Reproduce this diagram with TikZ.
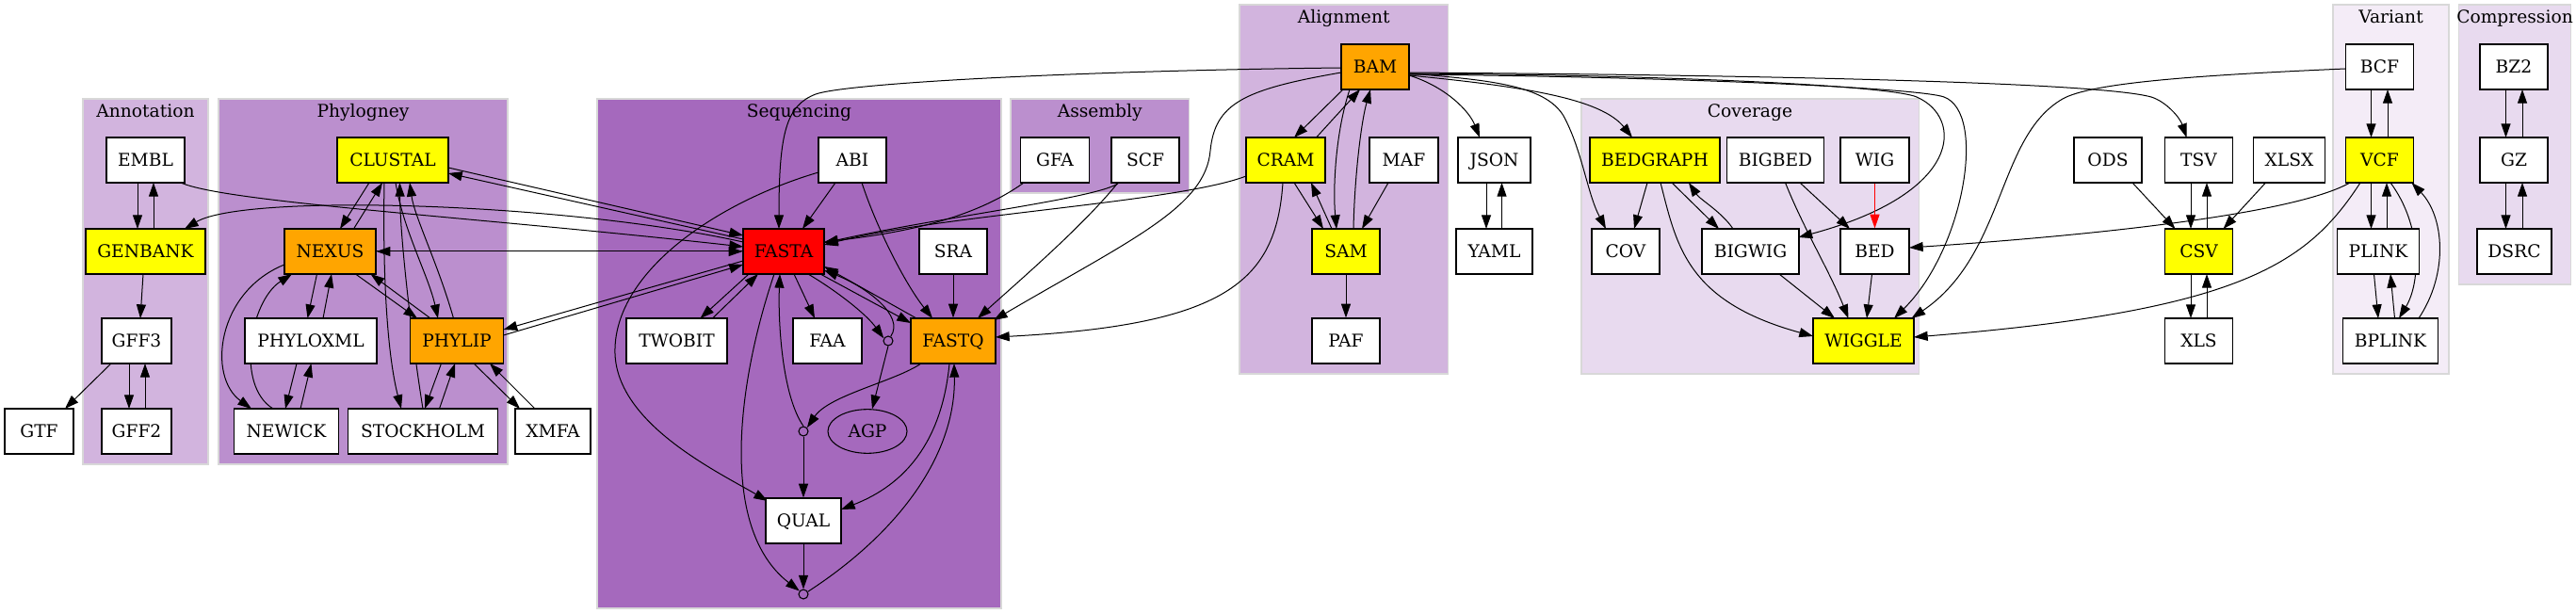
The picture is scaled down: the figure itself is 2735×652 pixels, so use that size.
\documentclass[tikz,border=0pt]{standalone}
\usepackage{fontspec}
\setmainfont{DejaVu Serif}
\usetikzlibrary{arrows.meta,calc,shapes.geometric}
\pgfdeclarelayer{bg}
\pgfdeclarelayer{edges}
\pgfsetlayers{bg,edges,main}
\definecolor{cA}{HTML}{D2B4DE}
\definecolor{cB}{HTML}{BB8FCE}
\definecolor{cC}{HTML}{A569BD}
\definecolor{cD}{HTML}{E8DAEF}
\definecolor{cE}{HTML}{F4ECF7}
\definecolor{cyel}{HTML}{FFFF00}
\definecolor{corg}{HTML}{FFA500}
\definecolor{cred}{HTML}{FF0000}
\definecolor{cborder}{HTML}{D8D8D8}
\tikzset{
  nb/.style={draw=black, line width=0.9pt, fill=white, rectangle, inner sep=0pt,
    minimum height=36pt, text height=10pt, text depth=0pt,
    font=\fontsize{14}{16}\selectfont},
  wd/.style={minimum width=#1*0.75pt},
  yel/.style={fill=cyel},
  org/.style={fill=corg},
  rd/.style={fill=cred},
  pnt/.style={draw=black, line width=0.8pt, circle, inner sep=0pt, minimum size=7.5pt},
  ell/.style={draw=black, line width=0.8pt, ellipse, inner sep=0pt, minimum width=63pt,
    minimum height=35pt, text height=10pt, text depth=0pt, font=\fontsize{14}{16}\selectfont},
  clus/.style={draw=cborder, line width=1pt},
  clab/.style={anchor=base, inner sep=0pt, font=\fontsize{14}{16}\selectfont},
  ed/.style={-{Triangle[length=11pt,width=7.5pt]}, line width=0.75pt, draw=black},
}
\begin{document}
\begin{tikzpicture}[x=0.75pt,y=-0.75pt]
\useasboundingbox (0,0) rectangle (2735,652);
% clusters
\begin{pgfonlayer}{bg}
\fill[white] (0,0) rectangle (2735,652);
\filldraw[clus,fill=cA] (88,105) rectangle (221,493);
\filldraw[clus,fill=cB] (232,105) rectangle (539,493);
\filldraw[clus,fill=cC] (634,105) rectangle (1063,646);
\filldraw[clus,fill=cB] (1073,105) rectangle (1262.5,205);
\filldraw[clus,fill=cA] (1316,5) rectangle (1537.5,397);
\filldraw[clus,fill=cD] (1679,105) rectangle (2037.5,397);
\filldraw[clus,fill=cE] (2477,5) rectangle (2600,397);
\filldraw[clus,fill=cD] (2610.4,5) rectangle (2729.5,302);
\end{pgfonlayer}
\node[clab] (lAnn) at (154.5,125) {Annotation};
\node[clab] (lPhy) at (385.5,125) {Phylogney};
\node[clab] (lSeq) at (848.5,125) {Sequencing};
\node[clab] (lAsm) at (1167.7,125) {Assembly};
\node[clab] (lAln) at (1426.7,25) {Alignment};
\node[clab] (lCov) at (1858,125) {Coverage};
\node[clab] (lVar) at (2538.5,25) {Variant};
\node[clab] (lCmp) at (2670,25) {Compression};
% nodes
\node[nb,wd=83] (EMBL) at (154.5,170) {EMBL};
\node[nb,wd=127,yel] (GENBANK) at (154.5,267) {GENBANK};
\node[nb,wd=74] (GFF3) at (145,362) {GFF3};
\node[nb,wd=73] (GTF) at (41.5,458) {GTF};
\node[nb,wd=74] (GFF2) at (145,458) {GFF2};
\node[nb,wd=118,yel] (CLUSTAL) at (417,170) {CLUSTAL};
\node[nb,wd=97,org] (NEXUS) at (350.5,267) {NEXUS};
\node[nb,wd=140] (PHYLOXML) at (330,362) {PHYLOXML};
\node[nb,wd=99,org] (PHYLIP) at (485,362) {PHYLIP};
\node[nb,wd=111] (NEWICK) at (304,458) {NEWICK};
\node[nb,wd=159] (STOCKHOLM) at (449,458) {STOCKHOLM};
\node[nb,wd=80] (XMFA) at (587,458) {XMFA};
\node[nb,wd=72] (ABI) at (905,170) {ABI};
\node[nb,wd=86,rd] (FASTA) at (832,267) {FASTA};
\node[nb,wd=72] (SRA) at (1012,267) {SRA};
\node[nb,wd=107] (TWOBIT) at (718.5,362) {TWOBIT};
\node[nb,wd=73] (FAA) at (878.5,362) {FAA};
\node[pnt] (p1) at (943,362) {};
\node[nb,wd=90,org] (FASTQ) at (1012,362) {FASTQ};
\node[pnt] (p2) at (853,458) {};
\node[ell] (AGP) at (921,458) {AGP};
\node[nb,wd=80] (QUAL) at (853,553) {QUAL};
\node[pnt] (p3) at (853,631) {};
\node[nb,wd=73] (GFA) at (1120,170) {GFA};
\node[nb,wd=72] (SCF) at (1216,170) {SCF};
\node[nb,wd=72,org] (BAM) at (1460,71) {BAM};
\node[nb,wd=84,yel] (CRAM) at (1365,170) {CRAM};
\node[nb,wd=73] (MAF) at (1490.5,170) {MAF};
\node[nb,wd=72,yel] (SAM) at (1429,267) {SAM};
\node[nb,wd=72] (PAF) at (1429,362) {PAF};
\node[nb,wd=77] (JSON) at (1586.5,170) {JSON};
\node[nb,wd=81] (YAML) at (1586.5,267) {YAML};
\node[nb,wd=138,yel] (BEDGRAPH) at (1757,170) {BEDGRAPH};
\node[nb,wd=103] (BIGBED) at (1885,170) {BIGBED};
\node[nb,wd=73] (WIG) at (1990.5,170) {WIG};
\node[nb,wd=72] (COV) at (1726,267) {COV};
\node[nb,wd=103] (BIGWIG) at (1858.5,267) {BIGWIG};
\node[nb,wd=73] (BED) at (1990.5,267) {BED};
\node[nb,wd=107,yel] (WIGGLE) at (1978.5,362) {WIGGLE};
\node[nb,wd=72] (ODS) at (2238,170) {ODS};
\node[nb,wd=72] (TSV) at (2334.5,170) {TSV};
\node[nb,wd=76] (XLSX) at (2430.5,170) {XLSX};
\node[nb,wd=72,yel] (CSV) at (2334.5,267) {CSV};
\node[nb,wd=72] (XLS) at (2334.5,362) {XLS};
\node[nb,wd=72] (BCF) at (2526.5,71) {BCF};
\node[nb,wd=72,yel] (VCF) at (2526.5,170) {VCF};
\node[nb,wd=87] (PLINK) at (2525,267) {PLINK};
\node[nb,wd=101] (BPLINK) at (2538,362) {BPLINK};
\node[nb,wd=72] (BZ2) at (2669,71) {BZ2};
\node[nb,wd=72] (GZ) at (2669,170) {GZ};
\node[nb,wd=79] (DSRC) at (2669.5,267) {DSRC};
% edges
\begin{pgfonlayer}{edges}
% Annotation
\draw[ed] ($(EMBL)+(-8.5,24)$) -- ($(GENBANK)+(-8.5,-24)$);
\draw[ed] ($(GENBANK)+(8.5,-24)$) -- ($(EMBL)+(8.5,24)$);
\draw[ed] ($(GENBANK)+(-2.5,24)$) -- ($(GFF3)+(4,-24)$);
\draw[ed] ($(GFF3)+(-27,24)$) -- ($(GTF)+(27.5,-24)$);
\draw[ed] ($(GFF3)+(-8,24)$) -- ($(GFF2)+(-8,-24)$);
\draw[ed] ($(GFF2)+(9,-24)$) -- ($(GFF3)+(9,24)$);
\draw[ed] ($(EMBL)+(37.5,24)$) .. controls +(48,21) and +(-289,-32) .. ($(FASTA)+(-43,-5)$);
\draw[ed] ($(FASTA)+(-43,-10)$) .. controls +(-189,-42) and +(64,-38) .. ($(GENBANK)+(41.5,-24)$);
% Phylogeny <-> FASTA
\draw[ed] ($(CLUSTAL)+(59,8)$) -- ($(FASTA)+(-43,-17)$);
\draw[ed] ($(FASTA)+(-43,-13)$) -- ($(CLUSTAL)+(59,14)$);
\draw[ed] (NEXUS.east) -- (FASTA.west);
\draw[ed] (FASTA.west) -- (NEXUS.east);
\draw[ed] ($(FASTA)+(-43,10)$) -- ($(PHYLIP)+(49.5,-12)$);
\draw[ed] ($(PHYLIP)+(49.5,-6)$) -- ($(FASTA)+(-43,14)$);
% Phylogeny
\draw[ed] ($(CLUSTAL)+(-25,24)$) -- ($(NEXUS)+(10.5,-24)$);
\draw[ed] ($(NEXUS)+(25,-24)$) -- ($(CLUSTAL)+(-11,24)$);
\draw[ed] ($(CLUSTAL)+(-9,24)$) .. controls +(-2,106) and +(-14,-54) .. ($(STOCKHOLM)+(-23,-24)$);
\draw[ed] ($(STOCKHOLM)+(0,-24)$) .. controls +(-9,-55) and +(0.5,66) .. ($(CLUSTAL)+(7.5,24)$);
\draw[ed] ($(CLUSTAL)+(3,24)$) .. controls +(8,50) and +(-10,-45) .. ($(PHYLIP)+(-20,-24)$);
\draw[ed] ($(PHYLIP)+(-3.5,-24)$) .. controls +(-16.5,-58) and +(5,36) .. ($(CLUSTAL)+(18,24)$);
\draw[ed] ($(NEXUS)+(27,24)$) -- ($(PHYLIP)+(-42,-24)$);
\draw[ed] ($(PHYLIP)+(-28,-24)$) -- ($(NEXUS)+(43,24)$);
\draw[ed] ($(NEXUS)+(-14,24)$) -- ($(PHYLOXML)+(-3.5,-24)$);
\draw[ed] ($(PHYLOXML)+(13,-24)$) -- ($(NEXUS)+(1.5,24)$);
\draw[ed] ($(NEXUS)+(-48.5,14)$) .. controls +(-72,29) and +(-47,-34) .. ($(NEWICK)+(-37,-24)$);
\draw[ed] ($(NEWICK)+(-14,-24)$) .. controls +(-40,-24) and +(-45,29) .. ($(NEXUS)+(-40.5,24)$);
\draw[ed] ($(PHYLOXML)+(-15,24)$) -- ($(NEWICK)+(-1,-24)$);
\draw[ed] ($(NEWICK)+(15,-24)$) -- ($(PHYLOXML)+(0.5,24)$);
\draw[ed] ($(PHYLIP)+(-16.5,24)$) -- ($(STOCKHOLM)+(2,-24)$);
\draw[ed] ($(STOCKHOLM)+(17.5,-24)$) -- ($(PHYLIP)+(-2,24)$);
\draw[ed] ($(PHYLIP)+(18,24)$) -- ($(XMFA)+(-35,-24)$);
\draw[ed] ($(XMFA)+(-19,-24)$) -- ($(PHYLIP)+(35,24)$);
% Sequencing
\draw[ed] ($(ABI)+(-18,24)$) -- ($(FASTA)+(20,-24)$);
\draw[ed] ($(ABI)+(10,24)$) .. controls +(15,46) and +(-30,-38) .. ($(FASTQ)+(-22,-24)$);
\draw[ed] ($(ABI)+(-36,13)$) .. controls +(-109,32) and +(-3,-86) .. (653,376)
  .. controls +(3,74) and +(-55,-32) .. ($(QUAL)+(-38,-21)$);
\draw[ed] (SRA.south) -- (FASTQ.north);
\draw[ed] ($(FASTA)+(-37,24)$) -- ($(TWOBIT)+(25,-24)$);
\draw[ed] ($(TWOBIT)+(38,-24)$) -- ($(FASTA)+(-27,24)$);
\draw[ed] ($(FASTA)+(11,24)$) -- ($(FAA)+(-13.5,-24)$);
\draw[ed] ($(FASTA)+(26,24)$) .. controls +(32,19) and +(-18,-25) .. (p1.150);
\draw[ed] (p1.60) .. controls +(15,-22) and +(45,18) .. ($(FASTA)+(43,20)$);
\draw[ed] ($(FASTA)+(39,24)$) -- ($(FASTQ)+(-45,-19)$);
\draw[ed] ($(FASTQ)+(-39,-24)$) -- ($(FASTA)+(43,16)$);
\draw[ed] ($(FASTA)+(-10,24)$) .. controls +(-37,109) and +(-88,-68) .. (p3.140);
\draw[ed] (p2.north) .. controls +(-23,-33) and +(-2,49) .. ($(FASTA)+(-4,24)$);
\draw[ed] ($(FASTQ)+(-34,24)$) .. controls +(-28,19) and +(23.5,-34.5) .. (p2.45);
\draw[ed] (p2.south) -- (QUAL.north);
\draw[ed] (p1.south) -- (AGP.78);
\draw[ed] ($(FASTQ)+(-4,24)$) .. controls +(-8,84) and +(67,-26) .. ($(QUAL)+(40,-12)$);
\draw[ed] (QUAL.south) -- (p3.north);
\draw[ed] (p3.30) .. controls +(100,-65) and +(2,94) .. ($(FASTQ)+(1,24)$);
% Assembly / Alignment -> Sequencing
\draw[ed] ($(GFA)+(-33,24)$) .. controls +(-57,41) and +(75,-9) .. ($(FASTA)+(43,-10)$);
\draw[ed] ($(SCF)+(-28,24)$) .. controls +(-18,16) and +(125,-28) .. ($(FASTA)+(43,-9)$);
\draw[ed] ($(CRAM)+(-42,17)$) .. controls +(-73,28) and +(125,-32) .. ($(FASTA)+(43,-7)$);
\draw[ed] ($(SCF)+(-29,24)$) .. controls +(-37,46) and +(42,-38) .. ($(FASTQ)+(26,-24)$);
\draw[ed] ($(BAM)+(-36,6)$) .. controls +(-104,18) and +(5,-50) .. (1285,160)
  .. controls +(-5,60) and +(145,-85) .. ($(FASTQ)+(43,-22)$);
\draw[ed] ($(CRAM)+(-3,24)$) .. controls +(-7,106) and +(243,-13) .. ($(FASTQ)+(45,-4)$);
\draw[ed] ($(BAM)+(-36,1)$) .. controls +(-274,3) and +(34,-12) .. (866,100)
  .. controls +(-31,12) and +(0,-103) .. ($(FASTA)+(-5,-24)$);
% Alignment
\draw[ed] ($(BAM)+(-34,24)$) -- ($(CRAM)+(9,-24)$);
\draw[ed] ($(CRAM)+(32.5,-24)$) -- ($(BAM)+(-16,24)$);
\draw[ed] ($(BAM)+(-27,24)$) .. controls +(-15,45) and +(-4,-43) .. ($(SAM)+(-10,-24)$);
\draw[ed] ($(SAM)+(8,-24)$) .. controls +(1,-53) and +(-10,35) .. ($(BAM)+(-5,24)$);
\draw[ed] ($(CRAM)+(9,24)$) -- ($(SAM)+(-24,-24)$);
\draw[ed] ($(SAM)+(-15,-24)$) -- ($(CRAM)+(27,24)$);
\draw[ed] ($(MAF)+(-16.5,24)$) -- ($(SAM)+(17,-24)$);
\draw[ed] (SAM.south) -- (PAF.north);
\draw[ed] ($(BAM)+(36,9)$) .. controls +(39,12) and +(-11,-28) .. ($(JSON)+(-15.5,-24)$);
\draw[ed] ($(JSON)+(-8.5,24)$) -- ($(YAML)+(-8.5,-24)$);
\draw[ed] ($(YAML)+(8,-24)$) -- ($(JSON)+(8,24)$);
\draw[ed] ($(BAM)+(36,7)$) .. controls +(84,7) and +(-20,-33) .. (1660,123)
  .. controls +(20,37) and +(-20,-38) .. ($(COV)+(-21,-24)$);
\draw[ed] ($(BAM)+(36,9)$) .. controls +(124,12) and +(-33,-41) .. ($(BEDGRAPH)+(-24,-24)$);
\draw[ed] ($(BAM)+(36,7)$) .. controls +(304,2) and +(-25,-11) .. (2035,103)
  .. controls +(50,22) and +(175,-47) .. ($(BIGWIG)+(51,-15)$);
\draw[ed] ($(BAM)+(36,8)$) .. controls +(304,3) and +(-24,-9) .. (2064,103)
  .. controls +(46,17) and +(74,-73) .. ($(WIGGLE)+(32.5,-24)$);
\draw[ed] ($(BAM)+(36,6)$) .. controls +(404,3) and +(-54,-15) .. (2284,103)
  .. controls +(16,5) and +(-7,-21) .. ($(TSV)+(-13,-24)$);
% Coverage
\draw[ed] ($(BEDGRAPH)+(-8,24)$) -- ($(COV)+(9,-24)$);
\draw[ed] ($(BEDGRAPH)+(18,24)$) -- ($(BIGWIG)+(-33.5,-24)$);
\draw[ed] ($(BIGWIG)+(-18.5,-24)$) .. controls +(-12,-18) and +(12,18) .. ($(BEDGRAPH)+(36,24)$);
\draw[ed] ($(BEDGRAPH)+(6,24)$) .. controls +(17,66) and +(-135,-37) .. ($(WIGGLE)+(-53.5,-5)$);
\draw[ed] ($(BIGBED)+(26,24)$) -- ($(BED)+(-26.5,-24)$);
\draw[ed] ($(BIGBED)+(10.5,24)$) .. controls +(20,50) and +(-20,-50) .. ($(WIGGLE)+(-16,-24)$);
\draw[ed, draw=red, -{Triangle[length=11pt,width=7.5pt,fill=red]}] (WIG.south) -- (BED.north);
\draw[ed] ($(BIGWIG)+(30.5,24)$) -- ($(WIGGLE)+(-30.5,-24)$);
\draw[ed] ($(BED)+(-3,24)$) -- ($(WIGGLE)+(3.5,-24)$);
\draw[ed] ($(VCF)+(-31.5,24)$) .. controls +(-55,31) and +(223,-15) .. ($(BED)+(36.5,-4)$);
\draw[ed] ($(VCF)+(-20.5,24)$) .. controls +(-56,86) and +(348,-28) .. ($(WIGGLE)+(53.5,-4)$);
\draw[ed] ($(BCF)+(-36.5,2)$) .. controls +(-160,7) and +(30,-17) .. (2190,105)
  .. controls +(-70,40) and +(100,-68) .. ($(WIGGLE)+(51,-24)$);
% Spreadsheets
\draw[ed] ($(ODS)+(26,24)$) -- ($(CSV)+(-25,-24)$);
\draw[ed] ($(TSV)+(-8.5,24)$) -- ($(CSV)+(-8.5,-24)$);
\draw[ed] ($(CSV)+(8.5,-24)$) -- ($(TSV)+(8.5,24)$);
\draw[ed] ($(XLSX)+(-25,24)$) -- ($(CSV)+(26,-24)$);
\draw[ed] ($(CSV)+(-8.5,24)$) -- ($(XLS)+(-8.5,-24)$);
\draw[ed] ($(XLS)+(8.5,-24)$) -- ($(CSV)+(8.5,24)$);
% Variant
\draw[ed] ($(BCF)+(-9,24)$) -- ($(VCF)+(-9,-24)$);
\draw[ed] ($(VCF)+(8.5,-24)$) -- ($(BCF)+(8.5,24)$);
\draw[ed] ($(VCF)+(-9,24)$) -- ($(PLINK)+(-7.5,-24)$);
\draw[ed] ($(PLINK)+(9,-24)$) -- ($(VCF)+(7.5,24)$);
\draw[ed] ($(VCF)+(11.5,24)$) .. controls +(34,46) and +(23,-38) .. ($(BPLINK)+(9,-24)$);
\draw[ed] ($(BPLINK)+(30,-24)$) .. controls +(32,-48) and +(34.5,36) .. ($(VCF)+(34,24)$);
\draw[ed] ($(PLINK)+(-4.5,24)$) -- ($(BPLINK)+(-13,-24)$);
\draw[ed] ($(BPLINK)+(4.5,-24)$) -- ($(PLINK)+(13,24)$);
% Compression
\draw[ed] ($(BZ2)+(-8.5,24)$) -- ($(GZ)+(-8.5,-24)$);
\draw[ed] ($(GZ)+(9,-24)$) -- ($(BZ2)+(9,24)$);
\draw[ed] ($(GZ)+(-8.5,24)$) -- ($(DSRC)+(-9,-24)$);
\draw[ed] ($(DSRC)+(8.5,-24)$) -- ($(GZ)+(9,24)$);
\end{pgfonlayer}
\end{tikzpicture}
\end{document}
